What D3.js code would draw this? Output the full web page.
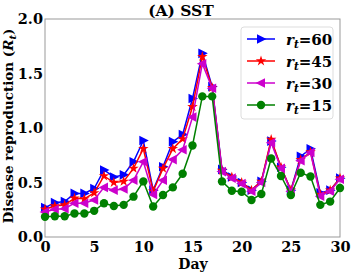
<!DOCTYPE html>
<html>
<head>
<meta charset="utf-8">
<script src="https://cdn.jsdelivr.net/npm/d3@7"></script>
<style>
  body { margin: 0; background: #fff; }
  text { font-family: "DejaVu Serif", serif; font-weight: bold; }
</style>
</head>
<body>
<svg width="353" height="273"></svg>
<script>
let width = 353, height = 273;

let days = d3.range(0, 31);
let rt60 = [0.27,0.315,0.325,0.40,0.40,0.445,0.615,0.55,0.57,0.69,0.885,0.43,0.645,0.875,0.94,1.27,1.685,1.38,0.62,0.55,0.50,0.43,0.51,0.88,0.64,0.43,0.74,0.81,0.405,0.43,0.54];
let rt45 = [0.255,0.285,0.295,0.355,0.35,0.405,0.56,0.50,0.51,0.63,0.81,0.42,0.63,0.81,0.90,1.195,1.655,1.37,0.61,0.55,0.50,0.43,0.51,0.895,0.64,0.43,0.71,0.78,0.39,0.43,0.54];
let rt30 = [0.23,0.255,0.26,0.31,0.31,0.34,0.455,0.43,0.44,0.52,0.69,0.39,0.52,0.71,0.80,1.10,1.59,1.365,0.60,0.54,0.49,0.42,0.50,0.865,0.63,0.42,0.70,0.775,0.375,0.42,0.53];
let rt15 = [0.185,0.19,0.19,0.215,0.215,0.24,0.31,0.285,0.295,0.37,0.51,0.28,0.385,0.455,0.58,0.84,1.29,1.29,0.51,0.425,0.415,0.34,0.395,0.72,0.56,0.385,0.59,0.555,0.295,0.325,0.45];
let xTicks = [0, 5, 10, 15, 20, 25, 30];
let yTicks = [0, 0.5, 1.0, 1.5, 2.0];

let series = [
    { label: "60", values: rt60, color: "blue", symbol: "right" },
    { label: "45", values: rt45, color: "red", symbol: "star" },
    { label: "30", values: rt30, color: "#cc00cc", symbol: "left" },
    { label: "15", values: rt15, color: "green", symbol: "circle" }
];

let margin = { left: 45, right: 13, top: 19, bottom: 36 };

let svg = d3.select("svg");

let x = d3.scaleLinear().domain([0, 30]).range([margin.left, width - margin.right]);
let y = d3.scaleLinear().domain([0, 2]).range([height - margin.bottom, margin.top]);

// marker shapes
function marker(sel, kind, color) {
    if (kind === "circle") {
        sel.append("circle").attr("r", 4.2).attr("fill", color);
    } else if (kind === "star") {
        sel.append("path").attr("d", d3.symbol().type(d3.symbolStar).size(34)()).attr("fill", color);
    } else {
        let p = kind === "right" ? "M-4,-4.8L5.5,0L-4,4.8Z" : "M4,-4.8L-5.5,0L4,4.8Z";
        sel.append("path").attr("d", p).attr("fill", color);
    }
}

// frame
svg.append("rect")
    .attr("x", margin.left).attr("y", margin.top)
    .attr("width", width - margin.left - margin.right)
    .attr("height", height - margin.top - margin.bottom)
    .attr("fill", "none").attr("stroke", "#999").attr("stroke-width", 1);

// axes
let xAxis = svg.append("g")
    .attr("transform", "translate(0," + (height - margin.bottom) + ")")
    .call(d3.axisBottom(x).tickValues(xTicks).tickSize(0).tickPadding(5));
let yAxis = svg.append("g")
    .attr("transform", "translate(" + margin.left + ",0)")
    .call(d3.axisLeft(y).tickValues(yTicks).tickSize(0).tickPadding(2).tickFormat(d3.format(".1f")));
[xAxis, yAxis].forEach(a => {
    a.select(".domain").remove();
    a.selectAll("text").attr("font-size", 14.5).attr("fill", "#000")
        .attr("font-family", "DejaVu Serif").attr("font-weight", "bold");
});

let line = d3.line().x((d, i) => x(days[i])).y(d => y(d));

series.forEach(s => {
    svg.append("path")
        .datum(s.values)
        .attr("d", line)
        .attr("fill", "none")
        .attr("stroke", s.color)
        .attr("stroke-width", 1.5);
    svg.append("g").selectAll("g")
        .data(s.values)
        .enter().append("g")
        .attr("transform", (d, i) => "translate(" + x(days[i]) + "," + y(d) + ")")
        .each(function () { marker(d3.select(this), s.symbol, s.color); });
});

// title and labels
svg.append("text").attr("x", 181).attr("y", 16).attr("text-anchor", "middle")
    .attr("font-size", 15.5).text("(A) SST");
svg.append("text").attr("x", 193).attr("y", 269).attr("text-anchor", "middle")
    .attr("font-size", 14).text("Day");
let yl = svg.append("text")
    .attr("transform", "translate(13," + 126 + ") rotate(-90)")
    .attr("text-anchor", "middle").attr("font-size", 13.5);
yl.append("tspan").text("Disease reproduction (");
yl.append("tspan").attr("font-style", "italic").text("R");
yl.append("tspan").attr("font-style", "italic").attr("font-size", 10).attr("dy", 3).text("t");
yl.append("tspan").attr("dy", -3).text(")");

// legend
let leg = svg.append("g").attr("transform", "translate(241,27)");
leg.append("rect").attr("width", 92).attr("height", 92).attr("rx", 3)
    .attr("fill", "#fff").attr("stroke", "#ddd");
series.forEach((s, i) => {
    let g = leg.append("g").attr("transform", "translate(0," + (12 + i * 22) + ")");
    g.append("line").attr("x1", 6).attr("x2", 34).attr("stroke", s.color).attr("stroke-width", 1.5);
    marker(g.append("g").attr("transform", "translate(20,0)"), s.symbol, s.color);
    let t = g.append("text").attr("x", 45).attr("y", 6).attr("font-size", 15);
    t.append("tspan").attr("font-style", "italic").text("r");
    t.append("tspan").attr("font-style", "italic").attr("font-size", 10.5).attr("dy", 3).text("t");
    t.append("tspan").attr("dy", -3).text("=" + s.label);
});
</script>
</body>
</html>
